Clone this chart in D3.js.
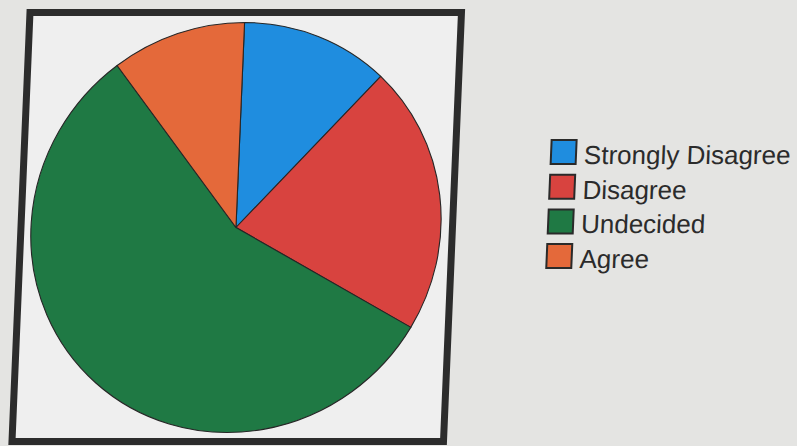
<!DOCTYPE html>
<html>
<head>
<meta charset="utf-8">
<script src="https://cdn.jsdelivr.net/npm/d3@7"></script>
<style>
  html, body { margin: 0; padding: 0; background: #e4e4e2; }
  svg { display: block; }
</style>
</head>
<body>
<svg id="chart" width="797" height="446"></svg>
<script>
// Survey responses (share of respondents, %)
const categories = ["Strongly Disagree", "Disagree", "Undecided", "Agree"];
const values = [11.8, 21.3, 56.4, 10.5];
const colors = ["#1f8ddf", "#d8433f", "#1f7944", "#e4693a"];

const W = 797, H = 446;
const svg = d3.select("#chart");

svg.append("rect")
  .attr("width", W).attr("height", H)
  .attr("fill", "#e4e4e2");

// whole figure is slightly sheared, as on the printed page
const scene = svg.append("g").attr("transform", "skewX(-2.4)");

// framed chart area
const frame = { x: 30.5, y: 12.5, w: 431.5, h: 429 };
scene.append("rect")
  .attr("x", frame.x).attr("y", frame.y)
  .attr("width", frame.w).attr("height", frame.h)
  .attr("fill", "#efefef")
  .attr("stroke", "#2c2c2c")
  .attr("stroke-width", 7);

// pie
const cx = 245.5, cy = 227.5, radius = 205;
const data = categories.map((c, i) => ({ category: c, value: values[i], color: colors[i] }));

const pie = d3.pie().sort(null).value(d => d.value).startAngle(0).endAngle(2 * Math.PI);
const arc = d3.arc().innerRadius(0).outerRadius(radius);

scene.append("g")
  .attr("transform", `translate(${cx},${cy})`)
  .selectAll("path")
  .data(pie(data))
  .join("path")
  .attr("d", arc)
  .attr("fill", d => d.data.color)
  .attr("stroke", "#262626")
  .attr("stroke-width", 1.1)
  .attr("stroke-linejoin", "round");

// legend
const legendX = 557.5, firstBaseline = 164, rowStep = 34.7;
const legendRows = scene.append("g")
  .selectAll("g")
  .data(data)
  .join("g")
  .attr("transform", (d, i) => `translate(${legendX},${firstBaseline + i * rowStep})`);

legendRows.append("rect")
  .attr("x", 0).attr("y", -24)
  .attr("width", 25).attr("height", 24)
  .attr("fill", d => d.color)
  .attr("stroke", "#2a2a2a")
  .attr("stroke-width", 2);

legendRows.append("text")
  .attr("x", 33).attr("y", 0)
  .attr("font-family", "'Liberation Sans', Arial, sans-serif")
  .attr("font-size", 26)
  .attr("fill", "#2b2b2b")
  .text(d => d.category);
</script>
</body>
</html>
